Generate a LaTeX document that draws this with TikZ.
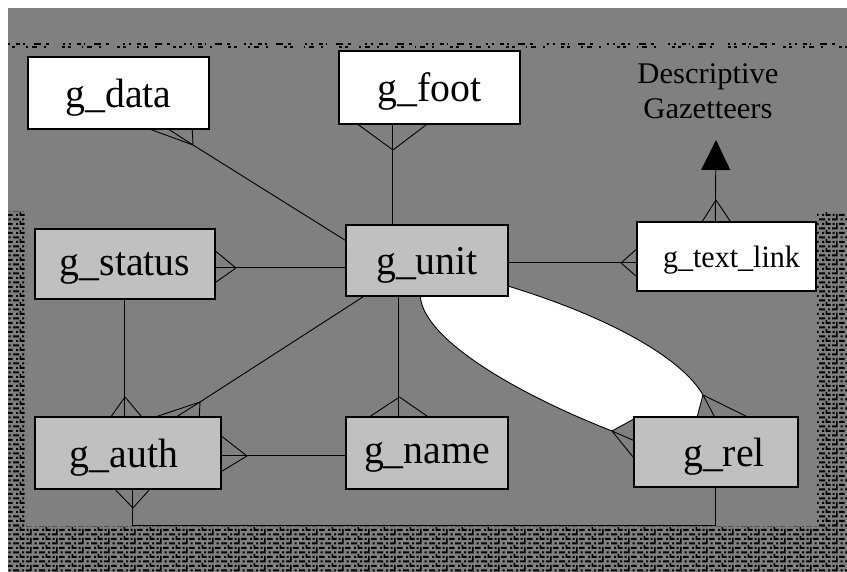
\documentclass[tikz,border=0pt]{standalone}
\usepackage{fontspec}
\setmainfont{Liberation Serif}
\usepackage{graphicx}
\usetikzlibrary{patterns,calc,arrows.meta}
\pgfdeclarelayer{bglayer}
\pgfsetlayers{bglayer,main}
\definecolor{bggray}{HTML}{808080}
\definecolor{boxgray}{HTML}{C0C0C0}
\pgfdeclarepatternformonly{noisetex}{\pgfqpoint{-0.1pt}{-0.1pt}}{\pgfqpoint{26.1pt}{9.1pt}}{\pgfqpoint{26pt}{9pt}}{%
  \pgfpathrectangle{\pgfqpoint{0pt}{0.5pt}}{\pgfqpoint{5pt}{2pt}}%
  \pgfpathrectangle{\pgfqpoint{4pt}{0.5pt}}{\pgfqpoint{1.6pt}{6.5pt}}%
  \pgfpathrectangle{\pgfqpoint{8.5pt}{0.5pt}}{\pgfqpoint{2pt}{2pt}}%
  \pgfpathrectangle{\pgfqpoint{13pt}{0.5pt}}{\pgfqpoint{6pt}{2pt}}%
  \pgfpathrectangle{\pgfqpoint{22pt}{0.5pt}}{\pgfqpoint{2pt}{2pt}}%
  \pgfpathrectangle{\pgfqpoint{0.6pt}{5pt}}{\pgfqpoint{2pt}{2pt}}%
  \pgfpathrectangle{\pgfqpoint{7pt}{5pt}}{\pgfqpoint{5.5pt}{2pt}}%
  \pgfpathrectangle{\pgfqpoint{16pt}{5pt}}{\pgfqpoint{2pt}{2pt}}%
  \pgfpathrectangle{\pgfqpoint{19.5pt}{5pt}}{\pgfqpoint{5pt}{2pt}}%
  \pgfpathrectangle{\pgfqpoint{19.5pt}{5pt}}{\pgfqpoint{1.6pt}{4pt}}%
  \pgfusepath{fill}}
\newcommand{\wl}[1]{\scalebox{0.97}[1]{#1}}
\begin{document}
\begin{tikzpicture}[x=1pt,y=-1pt,
  ent/.style={draw=black,line width=1.4pt,inner sep=0pt,text depth=0pt,font=\fontsize{41}{43}\selectfont},
  gent/.style={ent,fill=boxgray},
  went/.style={ent,fill=white},
  rel/.style={line width=0.9pt,draw=black},
  noisy/.style={pattern=noisetex,pattern color=black}]
\useasboundingbox (0,0) rectangle (847,572);
% entities
\node[went,minimum width=181pt,minimum height=72pt] (gdata) at (118.5,93) {\wl{g\_data}};
\node[went,minimum width=181pt,minimum height=73pt] (gfoot) at (429.5,87.5) {\wl{g\_foot}};
\node[gent,minimum width=180pt,minimum height=70pt] (gstatus) at (125,264) {\wl{g\_status}};
\node[gent,minimum width=162pt,minimum height=71pt] (gunit) at (427,260.5) {\wl{g\_unit}};
\node[went,minimum width=179pt,minimum height=69pt,font=\fontsize{31}{33}\selectfont] (gtext) at (726.5,256.5) {\hspace*{10pt}\wl{g\_text\_link}};
\node[gent,minimum width=186pt,minimum height=72pt] (gauth) at (128,453) {\wl{g\_auth}\hspace*{8pt}};
\node[gent,minimum width=162pt,minimum height=72pt] (gname) at (427,453) {\wl{g\_name}};
\node[gent,minimum width=164pt,minimum height=70pt] (grel) at (716,452) {\hspace*{16pt}\wl{g\_rel}};
\node[align=center,inner sep=0pt,font=\fontsize{30}{35}\selectfont] (desc) at (708,91) {\scalebox{1.02}[1]{Descriptive}\\\scalebox{1.02}[1]{Gazetteers}};
% fork points
\coordinate (f1) at (193,145);
\coordinate (f2) at (393,150);
\coordinate (f3) at (236,268);
\coordinate (f4) at (621,263);
\coordinate (f5) at (716,200);
\coordinate (triap) at (716,140);
\coordinate (f6) at (125,397);
\coordinate (f7) at (200,402);
\coordinate (f8) at (399.5,397);
\coordinate (f9) at (247,456);
\coordinate (f10) at (133,508);
\coordinate (f11) at (612,431);
\coordinate (f12) at (703,395);
\coordinate (a0) at ($(gunit.south west)+(75,0)$);
\coordinate (b0) at ($(gunit.north east)+(0,62)$);
\begin{pgfonlayer}{bglayer}
  \fill[white] (0,0) rectangle (847,572);
  \fill[bggray] (8,8) rectangle (847,572);
  \fill[noisy] (8,212) rectangle (26,526);
  \fill[noisy] (817,213) rectangle (847,526);
  \fill[noisy] (8,526) rectangle (847,572);
  \draw[black,line width=1.8pt,dash pattern=on 2pt off 6pt on 4pt off 3pt on 1.5pt off 9pt on 7pt off 5pt on 3pt off 14pt on 2pt off 4pt] (8,44) -- (847,44);
  \draw[black,line width=1.2pt,dash pattern=on 3pt off 11pt on 1.5pt off 4pt on 5pt off 7pt on 2pt off 16pt on 3pt off 3pt] (12,47) -- (847,47);
  \fill[white] (a0) .. controls +(4,44) and +(-92,-36) .. (f11)
     -- ($(grel.north west)+(0,3)$) -- ($(grel.north west)+(64,0)$) -- (f12)
     .. controls +(-23,-40) and +(92,28) .. (b0) -- cycle;
\end{pgfonlayer}
% g_data -- g_unit
\draw[rel] (f1) -- ($(gunit.north west)+(0,16)$);
\draw[rel] (f1) -- ($(gdata.south west)+(124,0)$);
\draw[rel] (f1) -- ($(gdata.south west)+(142,0)$);
\draw[rel] (f1) -- ($(gdata.south west)+(165,0)$);
% g_foot -- g_unit
\draw[rel] ($(gfoot.south west)+(54,0)$) -- ($(gunit.north west)+(47,0)$);
\draw[rel] (f2) -- ($(gfoot.south west)+(20,0)$);
\draw[rel] (f2) -- ($(gfoot.south west)+(88,0)$);
% g_status -- g_unit
\draw[rel] ($(gstatus.north east)+(0,39)$) -- ($(gunit.north west)+(0,43)$);
\draw[rel] (f3) -- ($(gstatus.north east)+(0,23)$);
\draw[rel] (f3) -- ($(gstatus.north east)+(0,54)$);
% g_unit -- g_text_link
\draw[rel] ($(gunit.north east)+(0,38)$) -- ($(gtext.north west)+(0,41)$);
\draw[rel] (f4) -- ($(gtext.north west)+(0,28)$);
\draw[rel] (f4) -- ($(gtext.north west)+(0,55)$);
% g_text_link -- Descriptive Gazetteers
\draw[rel,-{Triangle[width=29pt,length=30pt]}] ($(gtext.north west)+(79,0)$) -- (triap);
\draw[rel] (f5) -- ($(gtext.north west)+(66,0)$);
\draw[rel] (f5) -- ($(gtext.north west)+(94,0)$);
% g_status -- g_auth
\draw[rel] ($(gstatus.south west)+(90,0)$) -- ($(gauth.north west)+(90,0)$);
\draw[rel] (f6) -- ($(gauth.north west)+(77,0)$);
\draw[rel] (f6) -- ($(gauth.north west)+(107,0)$);
% g_unit -- g_auth
\draw[rel] ($(gunit.south west)+(18,0)$) -- (f7);
\draw[rel] (f7) -- ($(gauth.north west)+(123,0)$);
\draw[rel] (f7) -- ($(gauth.north west)+(143,0)$);
\draw[rel] (f7) -- ($(gauth.north west)+(165,0)$);
% g_unit -- g_name
\draw[rel] ($(gunit.south west)+(53.5,0)$) -- ($(gname.north west)+(53.5,0)$);
\draw[rel] (f8) -- ($(gname.north west)+(25,0)$);
\draw[rel] (f8) -- ($(gname.north west)+(82,0)$);
% g_name -- g_auth
\draw[rel] ($(gname.north west)+(0,39)$) -- ($(gauth.north east)+(0,39)$);
\draw[rel] (f9) -- ($(gauth.north east)+(0,20)$);
\draw[rel] (f9) -- ($(gauth.north east)+(0,55)$);
% g_auth -- g_rel
\draw[rel] ($(gauth.south west)+(98,0)$) -- ++(0,36) -| ($(grel.south west)+(82,0)$);
\draw[rel] (f10) -- ($(gauth.south west)+(81,0)$);
\draw[rel] (f10) -- ($(gauth.south west)+(115,0)$);
% g_unit -- g_rel (two links)
\draw[rel] (a0) .. controls +(4,44) and +(-92,-36) .. (f11);
\draw[rel] (f11) -- ($(grel.north west)+(0,3)$);
\draw[rel] (f11) -- ($(grel.north west)+(0,24)$);
\draw[rel] (f11) -- ($(grel.north west)+(0,41)$);
\draw[rel] (b0) .. controls +(92,28) and +(-23,-40) .. (f12);
\draw[rel] (f12) -- ($(grel.north west)+(64,0)$);
\draw[rel] (f12) -- ($(grel.north west)+(81,0)$);
\draw[rel] (f12) -- ($(grel.north west)+(113,0)$);
\end{tikzpicture}
\end{document}
